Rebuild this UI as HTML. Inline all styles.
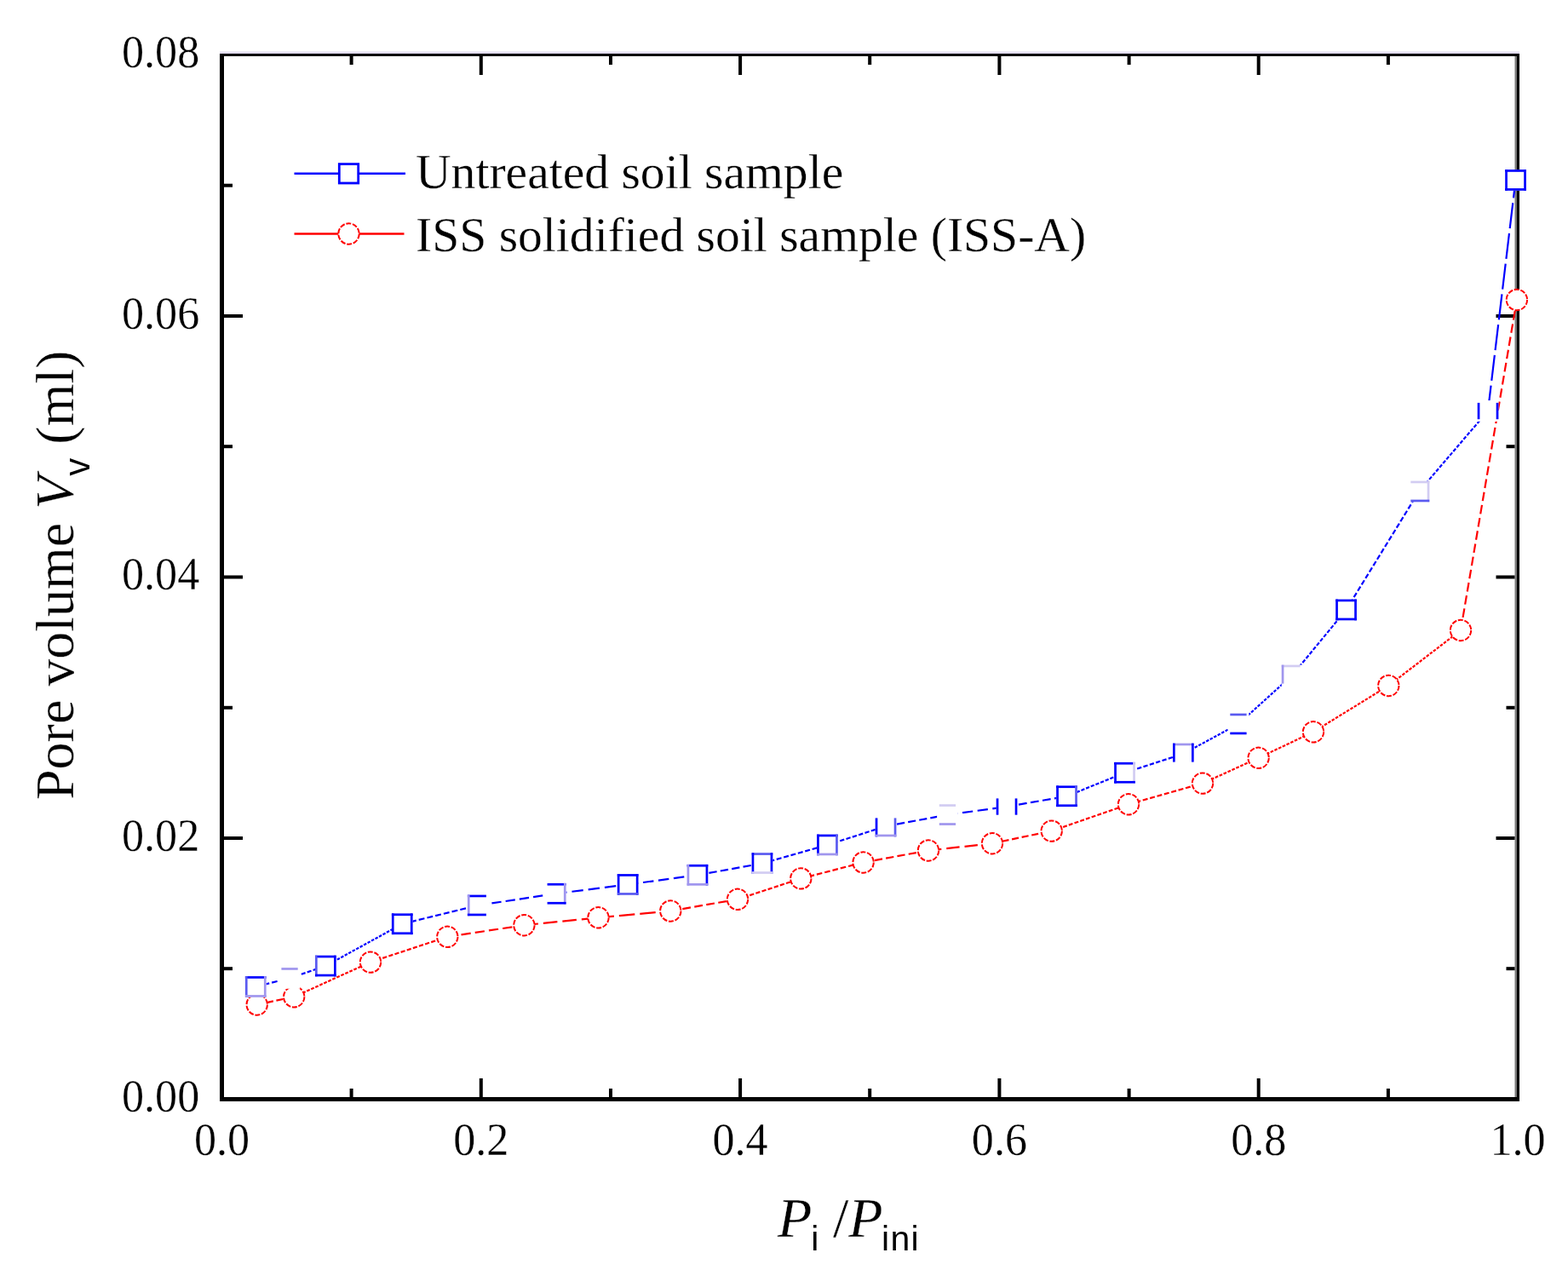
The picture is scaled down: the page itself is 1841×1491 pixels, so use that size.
<!DOCTYPE html><html><head><meta charset="utf-8"><title>Pore volume chart</title><style>html,body{margin:0;padding:0;background:#fff;}svg{display:block;}text{font-family:"Liberation Serif","Times New Roman",serif;fill:#000;stroke:#fff;stroke-width:0.3px;paint-order:fill stroke;}.sans{font-family:"Liberation Sans",Arial,sans-serif;stroke:none;}</style></head><body>
<svg width="1841" height="1491" viewBox="0 0 1841 1491">
<rect width="1841" height="1491" fill="#fff"/>
<g fill="#000">
<rect x="258" y="63" width="5" height="1230"/>
<rect x="1778.5" y="63" width="2.5" height="1230" fill="#7a7a7a"/>
<rect x="1781" y="63" width="3" height="1230"/>
<rect x="258" y="63" width="1526" height="3"/>
<rect x="258" y="1288" width="1526" height="5"/>
<rect x="263" y="1135.2" width="10" height="4"/>
<rect x="1768.5" y="1135.2" width="10" height="4"/>
<rect x="263" y="982.0" width="22" height="4"/>
<rect x="1756.5" y="982.0" width="22" height="4"/>
<rect x="263" y="828.8" width="10" height="4"/>
<rect x="1768.5" y="828.8" width="10" height="4"/>
<rect x="263" y="675.5" width="22" height="4"/>
<rect x="1756.5" y="675.5" width="22" height="4"/>
<rect x="263" y="522.2" width="10" height="4"/>
<rect x="1768.5" y="522.2" width="10" height="4"/>
<rect x="263" y="369.0" width="22" height="4"/>
<rect x="1756.5" y="369.0" width="22" height="4"/>
<rect x="263" y="215.7" width="10" height="4"/>
<rect x="1768.5" y="215.7" width="10" height="4"/>
<rect x="410.6" y="1278" width="4" height="10"/>
<rect x="410.6" y="66" width="4" height="10"/>
<rect x="562.8" y="1266" width="4" height="22"/>
<rect x="562.8" y="66" width="4" height="22"/>
<rect x="715.0" y="1278" width="4" height="10"/>
<rect x="715.0" y="66" width="4" height="10"/>
<rect x="867.1" y="1266" width="4" height="22"/>
<rect x="867.1" y="66" width="4" height="22"/>
<rect x="1019.2" y="1278" width="4" height="10"/>
<rect x="1019.2" y="66" width="4" height="10"/>
<rect x="1171.4" y="1266" width="4" height="22"/>
<rect x="1171.4" y="66" width="4" height="22"/>
<rect x="1323.6" y="1278" width="4" height="10"/>
<rect x="1323.6" y="66" width="4" height="10"/>
<rect x="1475.7" y="1266" width="4" height="22"/>
<rect x="1475.7" y="66" width="4" height="22"/>
<rect x="1627.9" y="1278" width="4" height="10"/>
<rect x="1627.9" y="66" width="4" height="10"/>
</g>
<rect x="258" y="60.5" width="1526" height="2.5" fill="#e2dcf0"/>
<line x1="301.7" y1="1179.5" x2="345.2" y2="1170.3" stroke="#ff0000" stroke-width="2.2" stroke-dasharray="8.0 3.6"/>
<line x1="345.2" y1="1170.3" x2="435.0" y2="1129.6" stroke="#ff0000" stroke-width="2.2" stroke-dasharray="3.8 1.7"/>
<line x1="435.0" y1="1129.6" x2="525.3" y2="1099.8" stroke="#ff0000" stroke-width="2.2" stroke-dasharray="5.2 2.3"/>
<line x1="525.3" y1="1099.8" x2="615.4" y2="1086.2" stroke="#ff0000" stroke-width="2.2" stroke-dasharray="11.3 5.1"/>
<line x1="615.4" y1="1086.2" x2="702.5" y2="1077.3" stroke="#ff0000" stroke-width="2.2" stroke-dasharray="16.6 6.0"/>
<line x1="702.5" y1="1077.3" x2="787.3" y2="1069.5" stroke="#ff0000" stroke-width="2.2" stroke-dasharray="18.5 6.0"/>
<line x1="787.3" y1="1069.5" x2="866.0" y2="1055.8" stroke="#ff0000" stroke-width="2.2" stroke-dasharray="9.8 4.4"/>
<line x1="866.0" y1="1055.8" x2="940.3" y2="1031.4" stroke="#ff0000" stroke-width="2.2" stroke-dasharray="5.2 2.3"/>
<line x1="940.3" y1="1031.4" x2="1013.6" y2="1012.5" stroke="#ff0000" stroke-width="2.2" stroke-dasharray="6.6 3.0"/>
<line x1="1013.6" y1="1012.5" x2="1090.0" y2="998.5" stroke="#ff0000" stroke-width="2.2" stroke-dasharray="9.3 4.2"/>
<line x1="1090.0" y1="998.5" x2="1165.0" y2="990.2" stroke="#ff0000" stroke-width="2.2" stroke-dasharray="15.4 6.0"/>
<line x1="1165.0" y1="990.2" x2="1234.7" y2="975.6" stroke="#ff0000" stroke-width="2.2" stroke-dasharray="8.1 3.7"/>
<line x1="1234.7" y1="975.6" x2="1325.0" y2="944.3" stroke="#ff0000" stroke-width="2.2" stroke-dasharray="4.9 2.2"/>
<line x1="1325.0" y1="944.3" x2="1412.0" y2="919.6" stroke="#ff0000" stroke-width="2.2" stroke-dasharray="6.0 2.7"/>
<line x1="1412.0" y1="919.6" x2="1477.6" y2="889.8" stroke="#ff0000" stroke-width="2.2" stroke-dasharray="3.7 1.7"/>
<line x1="1477.6" y1="889.8" x2="1542.0" y2="859.3" stroke="#ff0000" stroke-width="2.2" stroke-dasharray="3.6 1.6"/>
<line x1="1542.0" y1="859.3" x2="1630.3" y2="805.0" stroke="#ff0000" stroke-width="2.2" stroke-dasharray="3.5 1.6"/>
<line x1="1630.3" y1="805.0" x2="1715.0" y2="740.0" stroke="#ff0000" stroke-width="2.2" stroke-dasharray="3.5 1.6"/>
<line x1="1715.0" y1="740.0" x2="1780.9" y2="352.0" stroke="#ff0000" stroke-width="2.2" stroke-dasharray="10.6 4.8"/>
<circle cx="301.7" cy="1179.5" r="12.2" fill="#fff" stroke="#ff0000" stroke-width="2.0" stroke-dasharray="6 1.7"/>
<circle cx="345.2" cy="1170.3" r="12.2" fill="#fff" stroke="#ff0000" stroke-width="2.0" stroke-dasharray="6 1.7"/>
<circle cx="435.0" cy="1129.6" r="12.2" fill="#fff" stroke="#ff0000" stroke-width="2.0" stroke-dasharray="6 1.7"/>
<circle cx="525.3" cy="1099.8" r="12.2" fill="#fff" stroke="#ff0000" stroke-width="2.0" stroke-dasharray="6 1.7"/>
<circle cx="615.4" cy="1086.2" r="12.2" fill="#fff" stroke="#ff0000" stroke-width="2.0" stroke-dasharray="6 1.7"/>
<circle cx="702.5" cy="1077.3" r="12.2" fill="#fff" stroke="#ff0000" stroke-width="2.0" stroke-dasharray="6 1.7"/>
<circle cx="787.3" cy="1069.5" r="12.2" fill="#fff" stroke="#ff0000" stroke-width="2.0" stroke-dasharray="6 1.7"/>
<circle cx="866.0" cy="1055.8" r="12.2" fill="#fff" stroke="#ff0000" stroke-width="2.0" stroke-dasharray="6 1.7"/>
<circle cx="940.3" cy="1031.4" r="12.2" fill="#fff" stroke="#ff0000" stroke-width="2.0" stroke-dasharray="6 1.7"/>
<circle cx="1013.6" cy="1012.5" r="12.2" fill="#fff" stroke="#ff0000" stroke-width="2.0" stroke-dasharray="6 1.7"/>
<circle cx="1090.0" cy="998.5" r="12.2" fill="#fff" stroke="#ff0000" stroke-width="2.0" stroke-dasharray="6 1.7"/>
<circle cx="1165.0" cy="990.2" r="12.2" fill="#fff" stroke="#ff0000" stroke-width="2.0" stroke-dasharray="6 1.7"/>
<circle cx="1234.7" cy="975.6" r="12.2" fill="#fff" stroke="#ff0000" stroke-width="2.0" stroke-dasharray="6 1.7"/>
<circle cx="1325.0" cy="944.3" r="12.2" fill="#fff" stroke="#ff0000" stroke-width="2.0" stroke-dasharray="6 1.7"/>
<circle cx="1412.0" cy="919.6" r="12.2" fill="#fff" stroke="#ff0000" stroke-width="2.0" stroke-dasharray="6 1.7"/>
<circle cx="1477.6" cy="889.8" r="12.2" fill="#fff" stroke="#ff0000" stroke-width="2.0" stroke-dasharray="6 1.7"/>
<circle cx="1542.0" cy="859.3" r="12.2" fill="#fff" stroke="#ff0000" stroke-width="2.0" stroke-dasharray="6 1.7"/>
<circle cx="1630.3" cy="805.0" r="12.2" fill="#fff" stroke="#ff0000" stroke-width="2.0" stroke-dasharray="6 1.7"/>
<circle cx="1715.0" cy="740.0" r="12.2" fill="#fff" stroke="#ff0000" stroke-width="2.0" stroke-dasharray="6 1.7"/>
<circle cx="1780.9" cy="352.0" r="12.2" fill="#fff" stroke="#ff0000" stroke-width="2.0" stroke-dasharray="6 1.7"/>
<line x1="300.3" y1="1158.4" x2="340.0" y2="1148.4" stroke="#0000ff" stroke-width="2.2" stroke-dasharray="6.7 3.0"/>
<line x1="340.0" y1="1148.4" x2="382.4" y2="1134.0" stroke="#0000ff" stroke-width="2.2" stroke-dasharray="5.0 2.3"/>
<line x1="382.4" y1="1134.0" x2="472.3" y2="1084.7" stroke="#0000ff" stroke-width="2.2" stroke-dasharray="3.5 1.6"/>
<line x1="472.3" y1="1084.7" x2="561.2" y2="1062.9" stroke="#0000ff" stroke-width="2.2" stroke-dasharray="6.9 3.1"/>
<line x1="561.2" y1="1062.9" x2="652.2" y2="1049.2" stroke="#0000ff" stroke-width="2.2" stroke-dasharray="11.3 5.1"/>
<line x1="652.2" y1="1049.2" x2="737.1" y2="1038.4" stroke="#0000ff" stroke-width="2.2" stroke-dasharray="13.4 6.0"/>
<line x1="737.1" y1="1038.4" x2="819.0" y2="1027.3" stroke="#0000ff" stroke-width="2.2" stroke-dasharray="12.5 5.6"/>
<line x1="819.0" y1="1027.3" x2="895.0" y2="1013.6" stroke="#0000ff" stroke-width="2.2" stroke-dasharray="9.4 4.2"/>
<line x1="895.0" y1="1013.6" x2="971.5" y2="992.0" stroke="#0000ff" stroke-width="2.2" stroke-dasharray="6.0 2.7"/>
<line x1="971.5" y1="992.0" x2="1040.0" y2="970.0" stroke="#0000ff" stroke-width="2.2" stroke-dasharray="5.3 2.4"/>
<line x1="1040.0" y1="970.0" x2="1112.4" y2="956.6" stroke="#0000ff" stroke-width="2.2" stroke-dasharray="9.2 4.1"/>
<line x1="1112.4" y1="956.6" x2="1182.0" y2="947.0" stroke="#0000ff" stroke-width="2.2" stroke-dasharray="12.3 5.5"/>
<line x1="1182.0" y1="947.0" x2="1252.5" y2="934.8" stroke="#0000ff" stroke-width="2.2" stroke-dasharray="9.8 4.4"/>
<line x1="1252.5" y1="934.8" x2="1320.5" y2="907.2" stroke="#0000ff" stroke-width="2.2" stroke-dasharray="4.2 1.9"/>
<line x1="1320.5" y1="907.2" x2="1389.3" y2="885.0" stroke="#0000ff" stroke-width="2.2" stroke-dasharray="5.3 2.4"/>
<line x1="1389.3" y1="885.0" x2="1454.0" y2="850.0" stroke="#0000ff" stroke-width="2.2" stroke-dasharray="3.5 1.6"/>
<line x1="1454.0" y1="850.0" x2="1517.0" y2="793.0" stroke="#0000ff" stroke-width="2.2" stroke-dasharray="3.5 1.6"/>
<line x1="1517.0" y1="793.0" x2="1580.5" y2="716.0" stroke="#0000ff" stroke-width="2.2" stroke-dasharray="4.5 2.0"/>
<line x1="1580.5" y1="716.0" x2="1666.0" y2="577.0" stroke="#0000ff" stroke-width="2.2" stroke-dasharray="6.0 2.7"/>
<line x1="1666.0" y1="577.0" x2="1747.0" y2="482.5" stroke="#0000ff" stroke-width="2.2" stroke-dasharray="4.3 1.9"/>
<line x1="1747.0" y1="482.5" x2="1779.5" y2="211.4" stroke="#0000ff" stroke-width="2.2" stroke-dasharray="30.0 6.0"/>
<rect x="287.9" y="1146.1" width="24.7" height="24.7" fill="#fff"/>
<rect x="287.9" y="1146.1" width="24.7" height="2.7" fill="#0000ff"/>
<rect x="287.9" y="1146.1" width="2.7" height="24.7" fill="#5a5af0"/>
<rect x="309.9" y="1146.1" width="2.7" height="24.7" fill="#a096ee"/>
<rect x="287.9" y="1168.1" width="24.7" height="2.7" fill="#a096ee"/>
<rect x="327.6" y="1136.1" width="24.7" height="24.7" fill="#fff"/>
<rect x="330.4" y="1136.1" width="19.3" height="2.7" fill="#a096ee"/>
<rect x="370.0" y="1121.7" width="24.7" height="24.7" fill="#fff"/>
<rect x="370.0" y="1121.7" width="24.7" height="2.7" fill="#0000ff"/>
<rect x="370.0" y="1121.7" width="2.7" height="24.7" fill="#5a5af0"/>
<rect x="392.0" y="1121.7" width="2.7" height="24.7" fill="#0000ff"/>
<rect x="370.0" y="1143.7" width="24.7" height="2.7" fill="#0000ff"/>
<rect x="459.9" y="1072.4" width="24.7" height="24.7" fill="#fff"/>
<rect x="459.9" y="1072.4" width="24.7" height="2.7" fill="#0000ff"/>
<rect x="459.9" y="1072.4" width="2.7" height="24.7" fill="#0000ff"/>
<rect x="481.9" y="1072.4" width="2.7" height="24.7" fill="#0000ff"/>
<rect x="459.9" y="1094.4" width="24.7" height="2.7" fill="#0000ff"/>
<rect x="548.9" y="1050.6" width="24.7" height="24.7" fill="#fff"/>
<rect x="548.9" y="1050.6" width="22.0" height="2.7" fill="#0000ff"/>
<rect x="548.9" y="1050.6" width="2.7" height="24.7" fill="#a096ee"/>
<rect x="548.9" y="1072.6" width="22.0" height="2.7" fill="#0000ff"/>
<rect x="639.9" y="1036.9" width="24.7" height="24.7" fill="#fff"/>
<rect x="642.6" y="1036.9" width="22.0" height="2.7" fill="#0000ff"/>
<rect x="661.9" y="1036.9" width="2.7" height="24.7" fill="#a096ee"/>
<rect x="642.6" y="1058.9" width="22.0" height="2.7" fill="#0000ff"/>
<rect x="724.8" y="1026.1" width="24.7" height="24.7" fill="#fff"/>
<rect x="724.8" y="1026.1" width="24.7" height="2.7" fill="#0000ff"/>
<rect x="724.8" y="1026.1" width="2.7" height="24.7" fill="#0000ff"/>
<rect x="746.8" y="1026.1" width="2.7" height="24.7" fill="#0000ff"/>
<rect x="724.8" y="1048.1" width="24.7" height="2.7" fill="#5a5af0"/>
<rect x="806.6" y="1014.9" width="24.7" height="24.7" fill="#fff"/>
<rect x="806.6" y="1014.9" width="24.7" height="2.7" fill="#0000ff"/>
<rect x="806.6" y="1014.9" width="2.7" height="24.7" fill="#a096ee"/>
<rect x="828.6" y="1014.9" width="2.7" height="24.7" fill="#0000ff"/>
<rect x="806.6" y="1037.0" width="24.7" height="2.7" fill="#a096ee"/>
<rect x="882.6" y="1001.2" width="24.7" height="24.7" fill="#fff"/>
<rect x="882.6" y="1001.2" width="24.7" height="2.7" fill="#5a5af0"/>
<rect x="882.6" y="1001.2" width="2.7" height="24.7" fill="#0000ff"/>
<rect x="904.6" y="1001.2" width="2.7" height="24.7" fill="#0000ff"/>
<rect x="882.6" y="1023.2" width="24.7" height="2.7" fill="#d2ccf2"/>
<rect x="959.1" y="979.6" width="24.7" height="24.7" fill="#fff"/>
<rect x="959.1" y="979.6" width="24.7" height="2.7" fill="#0000ff"/>
<rect x="959.1" y="979.6" width="2.7" height="24.7" fill="#0000ff"/>
<rect x="981.1" y="979.6" width="2.7" height="24.7" fill="#5a5af0"/>
<rect x="959.1" y="1001.6" width="24.7" height="2.7" fill="#a096ee"/>
<rect x="1027.7" y="957.6" width="24.7" height="24.7" fill="#fff"/>
<rect x="1027.7" y="960.4" width="2.7" height="22.0" fill="#0000ff"/>
<rect x="1049.7" y="960.4" width="2.7" height="22.0" fill="#5a5af0"/>
<rect x="1027.7" y="979.6" width="24.7" height="2.7" fill="#a096ee"/>
<rect x="1100.1" y="944.2" width="24.7" height="24.7" fill="#fff"/>
<rect x="1102.8" y="944.2" width="19.3" height="2.7" fill="#d2ccf2"/>
<rect x="1102.8" y="966.2" width="19.3" height="2.7" fill="#a096ee"/>
<rect x="1169.7" y="934.6" width="24.7" height="24.7" fill="#fff"/>
<rect x="1169.7" y="937.4" width="2.7" height="19.3" fill="#0000ff"/>
<rect x="1191.7" y="937.4" width="2.7" height="19.3" fill="#0000ff"/>
<rect x="1240.2" y="922.4" width="24.7" height="24.7" fill="#fff"/>
<rect x="1240.2" y="922.4" width="24.7" height="2.7" fill="#0000ff"/>
<rect x="1240.2" y="922.4" width="2.7" height="24.7" fill="#0000ff"/>
<rect x="1262.2" y="922.4" width="2.7" height="24.7" fill="#5a5af0"/>
<rect x="1240.2" y="944.4" width="24.7" height="2.7" fill="#0000ff"/>
<rect x="1308.2" y="894.9" width="24.7" height="24.7" fill="#fff"/>
<rect x="1308.2" y="894.9" width="24.7" height="2.7" fill="#0000ff"/>
<rect x="1308.2" y="894.9" width="2.7" height="24.7" fill="#0000ff"/>
<rect x="1330.2" y="894.9" width="2.7" height="24.7" fill="#d2ccf2"/>
<rect x="1308.2" y="916.9" width="24.7" height="2.7" fill="#0000ff"/>
<rect x="1377.0" y="872.6" width="24.7" height="24.7" fill="#fff"/>
<rect x="1377.0" y="872.6" width="24.7" height="2.7" fill="#a096ee"/>
<rect x="1377.0" y="872.6" width="2.7" height="22.0" fill="#0000ff"/>
<rect x="1399.0" y="872.6" width="2.7" height="22.0" fill="#0000ff"/>
<rect x="1441.7" y="837.6" width="24.7" height="24.7" fill="#fff"/>
<rect x="1444.3" y="837.6" width="19.3" height="2.7" fill="#5a5af0"/>
<rect x="1444.3" y="859.6" width="19.3" height="2.7" fill="#0000ff"/>
<rect x="1504.7" y="780.6" width="24.7" height="24.7" fill="#fff"/>
<rect x="1504.7" y="780.6" width="22.0" height="2.7" fill="#d2ccf2"/>
<rect x="1504.7" y="780.6" width="2.7" height="22.0" fill="#a096ee"/>
<rect x="1568.2" y="703.6" width="24.7" height="24.7" fill="#fff"/>
<rect x="1568.2" y="703.6" width="24.7" height="2.7" fill="#0000ff"/>
<rect x="1568.2" y="703.6" width="2.7" height="24.7" fill="#0000ff"/>
<rect x="1590.2" y="703.6" width="2.7" height="24.7" fill="#0000ff"/>
<rect x="1568.2" y="725.6" width="24.7" height="2.7" fill="#0000ff"/>
<rect x="1653.7" y="564.6" width="24.7" height="24.7" fill="#fff"/>
<rect x="1656.3" y="564.6" width="22.0" height="2.7" fill="#d2ccf2"/>
<rect x="1675.7" y="564.6" width="2.7" height="24.7" fill="#d2ccf2"/>
<rect x="1656.3" y="586.6" width="22.0" height="2.7" fill="#5a5af0"/>
<rect x="1734.7" y="470.1" width="24.7" height="24.7" fill="#fff"/>
<rect x="1734.7" y="472.9" width="2.7" height="19.3" fill="#0000ff"/>
<rect x="1756.7" y="472.9" width="2.7" height="19.3" fill="#0000ff"/>
<rect x="1767.2" y="199.1" width="24.7" height="24.7" fill="#fff"/>
<rect x="1767.2" y="199.1" width="24.7" height="2.7" fill="#0000ff"/>
<rect x="1767.2" y="199.1" width="2.7" height="24.7" fill="#0000ff"/>
<rect x="1789.2" y="199.1" width="2.7" height="24.7" fill="#0000ff"/>
<rect x="1767.2" y="221.1" width="24.7" height="2.7" fill="#0000ff"/>
<text transform="translate(234.2,1305.3) scale(0.965,1)" font-size="54" text-anchor="end">0.00</text>
<text transform="translate(234.2,998.8) scale(0.965,1)" font-size="54" text-anchor="end">0.02</text>
<text transform="translate(234.2,692.3) scale(0.965,1)" font-size="54" text-anchor="end">0.04</text>
<text transform="translate(234.2,385.8) scale(0.965,1)" font-size="54" text-anchor="end">0.06</text>
<text transform="translate(234.2,79.3) scale(0.965,1)" font-size="54" text-anchor="end">0.08</text>
<text transform="translate(260.5,1356.0) scale(0.965,1)" font-size="54" text-anchor="middle">0.0</text>
<text transform="translate(564.8,1356.0) scale(0.965,1)" font-size="54" text-anchor="middle">0.2</text>
<text transform="translate(869.1,1356.0) scale(0.965,1)" font-size="54" text-anchor="middle">0.4</text>
<text transform="translate(1173.4,1356.0) scale(0.965,1)" font-size="54" text-anchor="middle">0.6</text>
<text transform="translate(1477.7,1356.0) scale(0.965,1)" font-size="54" text-anchor="middle">0.8</text>
<text transform="translate(1782.0,1356.0) scale(0.965,1)" font-size="54" text-anchor="middle">1.0</text>
<line x1="345.5" y1="203.7" x2="476" y2="203.7" stroke="#0000ff" stroke-width="2.6"/>
<rect x="398.3" y="192.6" width="22.4" height="22.4" fill="#fff" stroke="#0000ff" stroke-width="2.8"/>
<line x1="345.5" y1="274.5" x2="474.5" y2="274.5" stroke="#ff0000" stroke-width="2.6"/>
<circle cx="409.5" cy="274.5" r="12.2" fill="#fff" stroke="#ff0000" stroke-width="2.0" stroke-dasharray="6 1.7"/>
<text x="488" y="221.3" font-size="57.6">Untreated soil sample</text>
<text x="488" y="294.6" font-size="57.6">ISS solidified soil sample (ISS-A)</text>
<text y="1451.8" font-size="66"><tspan x="913" font-style="italic">P</tspan><tspan class="sans" font-size="41" dx="-1" dy="16">i</tspan><tspan dy="-16"> /</tspan><tspan font-style="italic">P</tspan><tspan class="sans" font-size="41" dx="-1.5" dy="16" letter-spacing="1.2">ini</tspan></text>
<text transform="translate(86,939) rotate(-90)" font-size="64"><tspan x="0" y="0">Pore volume </tspan><tspan font-style="italic">V</tspan><tspan class="sans" font-size="42" dy="19">v</tspan><tspan dy="-19"> (ml)</tspan></text>
</svg></body></html>
